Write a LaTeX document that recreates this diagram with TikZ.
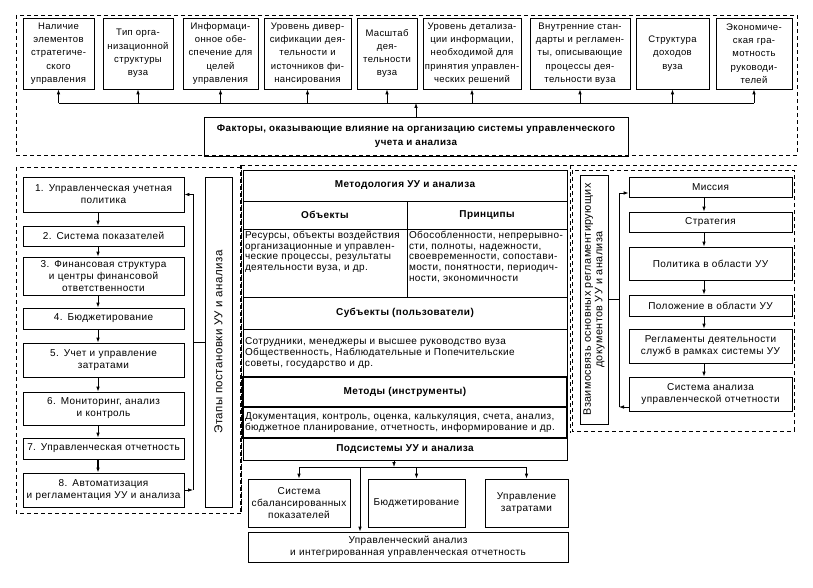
\documentclass[tikz,border=0pt]{standalone}
\usepackage{fontspec}
\setmainfont{Liberation Sans}[LetterSpace=4]
\usetikzlibrary{arrows.meta,calc}
\begin{document}
\begin{tikzpicture}[x=1pt,y=-1pt,
  ln/.style={line width=0.8pt},
  arr/.style={ln,-{Latex[length=5pt,width=3.6pt]}},
  dsh/.style={dash pattern=on 4pt off 3pt, line width=0.7pt},
  box/.style={draw, line width=0.8pt, inner sep=1pt, align=center, font=\fontsize{10}{12}\selectfont},
  topbox/.style={box, inner xsep=0pt, text width=#1, minimum width=#1, minimum height=71pt, font=\fontsize{9.5}{13.3}\selectfont},
  lbox/.style={box, inner xsep=0pt, text width=161pt, minimum width=161pt, minimum height=#1},
  rbox/.style={box, inner xsep=0pt, text width=163pt, minimum width=163pt, minimum height=#1},
  sbox/.style={box, inner xsep=0pt, text width=#1, minimum width=#1, minimum height=48pt},
  hdr/.style={draw, line width=0.8pt, inner sep=0pt, align=center, font=\fontsize{10}{11}\selectfont\bfseries},
  cell/.style={draw, line width=0.8pt, inner xsep=2pt, inner ysep=0pt, font=\fontsize{10}{10.7}\selectfont},
  vbox/.style={draw, line width=0.8pt, rotate=90, inner sep=0pt, align=center, font=\fontsize{11.5}{11.5}\selectfont}
]
\useasboundingbox (0,0) rectangle (813,588);
\fill[white] (0,0) rectangle (813,588);

% dashed regions
\draw[dsh] (16,15) rectangle (797,155);
\draw[dsh] (16,167) rectangle (241,513);
\draw[dsh, line width=1.5pt] (241,165) -- (241,513);
\draw[dsh] (241,165) -- (797,165);
\draw[dsh] (570,165) -- (570,433);
\draw[dsh] (572,170) rectangle (794,431);

% top factors
\node[topbox=71pt] (t1) at (58.5,53.5) {Наличие\\элементов\\стратегиче-\\ского\\управления};
\node[topbox=70pt] (t2) at (138,53.5) {Тип орга-\\низационной\\структуры\\вуза};
\node[topbox=75pt] (t3) at (220.5,53.5) {Информаци-\\онное обе-\\спечение для\\целей\\управления};
\node[topbox=87pt] (t4) at (307.5,53.5) {Уровень дивер-\\сификации дея-\\тельности и\\источников фи-\\нансирования};
\node[topbox=60pt] (t5) at (387,53.5) {Масштаб\\дея-\\тельности\\вуза};
\node[topbox=98pt] (t6) at (472,53.5) {Уровень~детализа-\\ции~информации,\\необходимой~для\\принятия~управлен-\\ческих~решений};
\node[topbox=100pt] (t7) at (580,53.5) {Внутренние~стан-\\дарты~и~регламен-\\ты,~описывающие\\процессы~дея-\\тельности~вуза};
\node[topbox=73pt] (t8) at (672.5,53.5) {Структура\\доходов\\вуза};
\node[topbox=76pt] (t9) at (754,53.5) {Экономиче-\\ская гра-\\мотность\\руководи-\\телей};

\node[hdr, minimum width=424pt, minimum height=39pt, font=\fontsize{9.8}{14}\selectfont\bfseries] (f) at (416,136.5)
  {Факторы, оказывающие влияние на организацию системы управленческого\\учета и анализа};

\coordinate (bus) at (0,103);
\draw[ln] (t1.south |- bus) -- (t9.south |- bus);
\foreach \n in {t1,t2,t3,t4,t5,t6,t7,t8,t9}
  \draw[arr] (\n.south |- bus) -- (\n.south);
\draw[arr] (f.north) -- (f.north |- bus);

% left column
\node[lbox=35pt] (l1) at (103.5,194.5) {1. Управленческая учетная\\политика};
\node[lbox=20pt] (l2) at (103.5,236) {2. Система показателей};
\node[lbox=38pt] (l3) at (103.5,276) {3. Финансовая структура\\и центры финансовой\\ответственности};
\node[lbox=21pt] (l4) at (103.5,318.5) {4. Бюджетирование};
\node[lbox=34pt] (l5) at (103.5,360) {5. Учет и управление\\затратами};
\node[lbox=33pt] (l6) at (103.5,408.5) {6. Мониторинг, анализ\\и контроль};
\node[lbox=21pt] (l7) at (103.5,448.5) {7. Управленческая отчетность};
\node[lbox=34pt] (l8) at (103.5,490) {8. Автоматизация\\и регламентация УУ и анализа};
\foreach \a/\b in {l1/l2,l2/l3,l3/l4,l4/l5,l5/l6,l6/l7}
  \draw[arr] ([xshift=-5.5pt]\a.south) -- ([xshift=-5.5pt]\b.north);
\draw[arr, line width=1.3pt] ([xshift=-5.5pt]l7.south) -- ([xshift=-5.5pt]l8.north);

\node[vbox, minimum width=330pt, minimum height=27pt] (e) at (218.5,342) {Этапы постановки УУ и анализа};
\coordinate (lx) at (193,0);
\draw[arr] (l8.east) -- (l8.east -| lx);
\draw[arr] (l8.east -| lx) -- (l1.east -| lx) -- (l1.east);
\draw[ln] (e.north) -- (e.north -| lx);

% middle table
\node[hdr, minimum width=324pt, minimum height=31pt] (m1) at (405,185.5) {Методология УУ и анализа};
\node[hdr, minimum width=164pt, minimum height=28pt] (m2a) at (325,215) {Объекты};
\node[hdr, minimum width=160pt, minimum height=28pt] (m2b) at (487,215) {Принципы};
\node[cell] (m3a) at (325,263) {\parbox[c][68pt][t]{160pt}{\raggedright\vspace*{2pt}Ресурсы, объекты воздействия\\организационные и управлен-\\ческие процессы, результаты\\деятельности вуза, и др.}};
\node[cell] (m3b) at (487,263) {\parbox[c][68pt][t]{156pt}{\raggedright\vspace*{2pt}Обособленности, непрерывно-\\сти, полноты, надежности,\\своевременности, сопостави-\\мости, понятности, периодич-\\ности, экономичности}};
\node[hdr, minimum width=324pt, minimum height=32pt] (m4) at (405,313) {Субъекты (пользователи)};
\node[cell] (m5) at (405,353) {\parbox[c][48pt][c]{320pt}{\raggedright Сотрудники, менеджеры и высшее руководство вуза\\Общественность, Наблюдательные и Попечительские\\советы, государство и др.}};
\node[hdr, line width=1.4pt, minimum width=324pt, minimum height=30pt] (m6) at (405,392) {Методы (инструменты)};
\node[cell, line width=1.4pt] (m7) at (405,422.5) {\parbox[c][31pt][c]{320pt}{\raggedright Документация, контроль, оценка, калькуляция, счета, анализ,\\бюджетное планирование, отчетность, информирование и др.}};
\node[hdr, minimum width=324pt, minimum height=22pt] (m8) at (405,449) {Подсистемы УУ и анализа};

% subsystems
\node[sbox=102pt] (s1) at (299,503) {Система\\сбалансированных\\показателей};
\node[sbox=97pt] (s2) at (416.5,503) {Бюджетирование};
\node[sbox=83pt] (s3) at (526.5,503) {Управление\\затратами};
\node[box, inner xsep=0pt, text width=320pt, minimum width=320pt, minimum height=30pt] (b) at (408,547) {Управленческий анализ\\и интегрированная управленческая отчетность};
\coordinate (sbus) at (0,467);
\coordinate (bx) at (360,0);
\draw[arr] ([xshift=-11pt]m8.south) -- ([xshift=-11pt]m8.south |- sbus);
\draw[ln] (s1.north |- sbus) -- (s3.north |- sbus);
\foreach \n in {s1,s2,s3}
  \draw[arr] (\n.north |- sbus) -- (\n.north);
\draw[arr] (bx |- sbus) -- (bx |- b.north);

% right section
\node[vbox, minimum width=249pt, minimum height=28pt, font=\fontsize{10.8}{11.3}\selectfont] (v) at (594,299.5) {Взаимосвязь основных регламентирующих\\документов УУ и анализа};
\node[rbox=20pt] (r1) at (710.5,187) {Миссия};
\node[rbox=20pt] (r2) at (710.5,222) {Стратегия};
\node[rbox=33pt] (r3) at (710.5,263.5) {Политика в области УУ};
\node[rbox=21pt] (r4) at (710.5,305.5) {Положение в области УУ};
\node[rbox=34pt] (r5) at (710.5,346) {Регламенты деятельности\\служб в рамках системы УУ};
\node[rbox=34pt] (r6) at (710.5,394) {Система анализа\\управленческой отчетности};
\foreach \a/\b in {r1/r2,r2/r3,r3/r4,r4/r5,r5/r6}
  \draw[arr] ([xshift=-6.5pt]\a.south) -- ([xshift=-6.5pt]\b.north);
\coordinate (rx) at (619,0);
\draw[arr] ([yshift=-13pt]r6.west) -- ([yshift=-13pt]r6.west -| rx);
\draw[arr] ([yshift=-13pt]r6.west -| rx) -- ([yshift=-6pt]r1.west -| rx) -- ([yshift=-6pt]r1.west);
\draw[ln] (v.south) -- (v.south -| rx);
\end{tikzpicture}
\end{document}
